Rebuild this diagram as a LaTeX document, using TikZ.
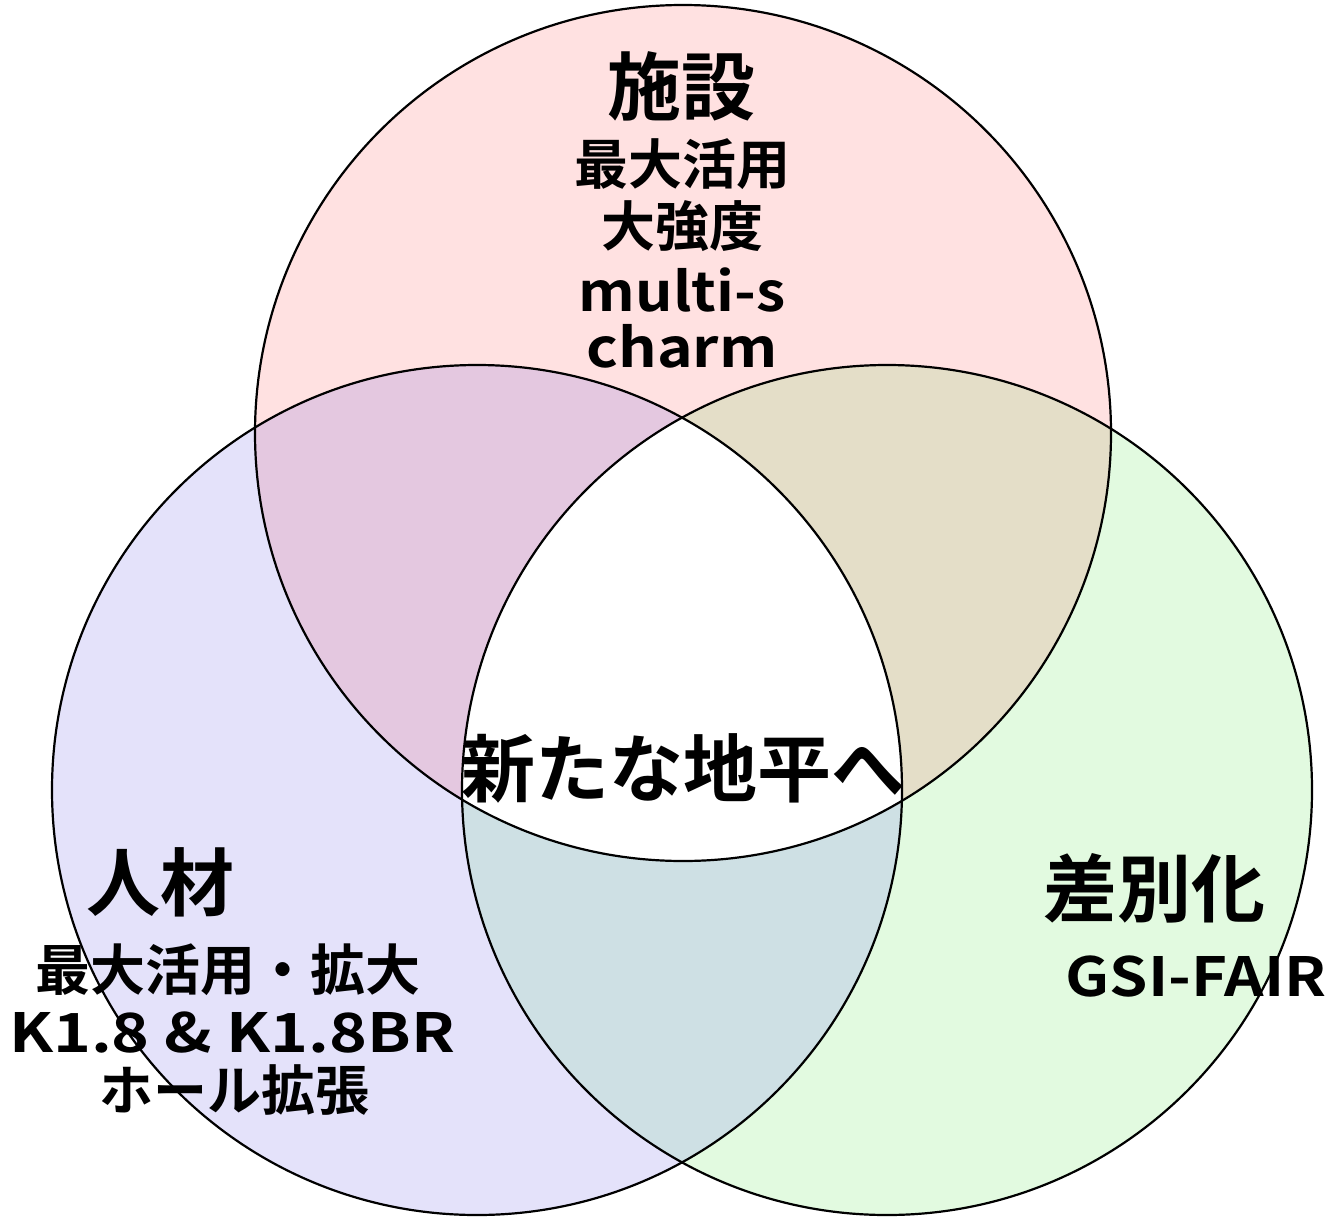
\documentclass[tikz,border=0pt]{standalone}
\usepackage{fontspec}
\setmainfont{Noto Sans CJK JP}[BoldFont={Noto Sans CJK JP Bold}]
\definecolor{cT}{RGB}{255,225,225}
\definecolor{cL}{RGB}{228,226,250}
\definecolor{cR}{RGB}{226,250,224}
\definecolor{cTL}{RGB}{228,200,224}
\definecolor{cTR}{RGB}{228,222,200}
\definecolor{cLR}{RGB}{206,224,228}
\newcommand{\wider}[2]{\scalebox{#1}[1]{#2}}
\tikzset{
  lbl/.style={inner sep=0pt, outer sep=0pt, font=\bfseries},
  big/.style={lbl, font=\bfseries\fontsize{74}{80}\selectfont},
  mid/.style={lbl, font=\bfseries\fontsize{54}{60}\selectfont},
  ring/.style={draw=black, line width=2.2pt}
}
\begin{document}
\begin{tikzpicture}[x=1pt,y=-1pt]
\useasboundingbox (0,0) rectangle (1332,1217);
\coordinate (T) at (683,433);
\coordinate (L) at (477,790);
\coordinate (R) at (887,790);
\def\rT{428}
\def\rLR{425}
% base fills
\fill[cT] (T) circle[radius=\rT];
\fill[cL] (L) circle[radius=\rLR];
\fill[cR] (R) circle[radius=\rLR];
% overlaps
\begin{scope}
  \clip (T) circle[radius=\rT];
  \fill[cTL] (L) circle[radius=\rLR];
  \fill[cTR] (R) circle[radius=\rLR];
\end{scope}
\begin{scope}
  \clip (L) circle[radius=\rLR];
  \fill[cLR] (R) circle[radius=\rLR];
\end{scope}
\begin{scope}
  \clip (T) circle[radius=\rT];
  \clip (L) circle[radius=\rLR];
  \fill[white] (R) circle[radius=\rLR];
\end{scope}
% outlines
\draw[ring] (T) circle[radius=\rT];
\draw[ring] (L) circle[radius=\rLR];
\draw[ring] (R) circle[radius=\rLR];
% texts
\node[big] (t1) at (681,86) {施設};
\node[mid] (t2) at (682,164) {最大活用};
\node[mid] (t3) at (682,226) {大強度};
\node[mid] (t4) at (682,290) {\wider{1.09}{multi-s}};
\node[mid] (t5) at (682,346) {\wider{1.12}{charm}};
\node[big] (c1) at (683,768) {新たな地平へ};
\node[big] (l1) at (160,882) {人材};
\node[mid,font=\bfseries\fontsize{55}{60}\selectfont] (l2) at (228,970) {最大活用・拡大};
\node[mid] (l3) at (232,1033) {\wider{1.19}{K1.8 \& K1.8BR}};
\node[mid] (l4) at (234,1090) {ホール拡張};
\node[big] (r1) at (1154,888) {差別化};
\node[mid] (r2) at (1196,977) {\wider{1.14}{GSI-FAIR}};
\end{tikzpicture}
\end{document}
